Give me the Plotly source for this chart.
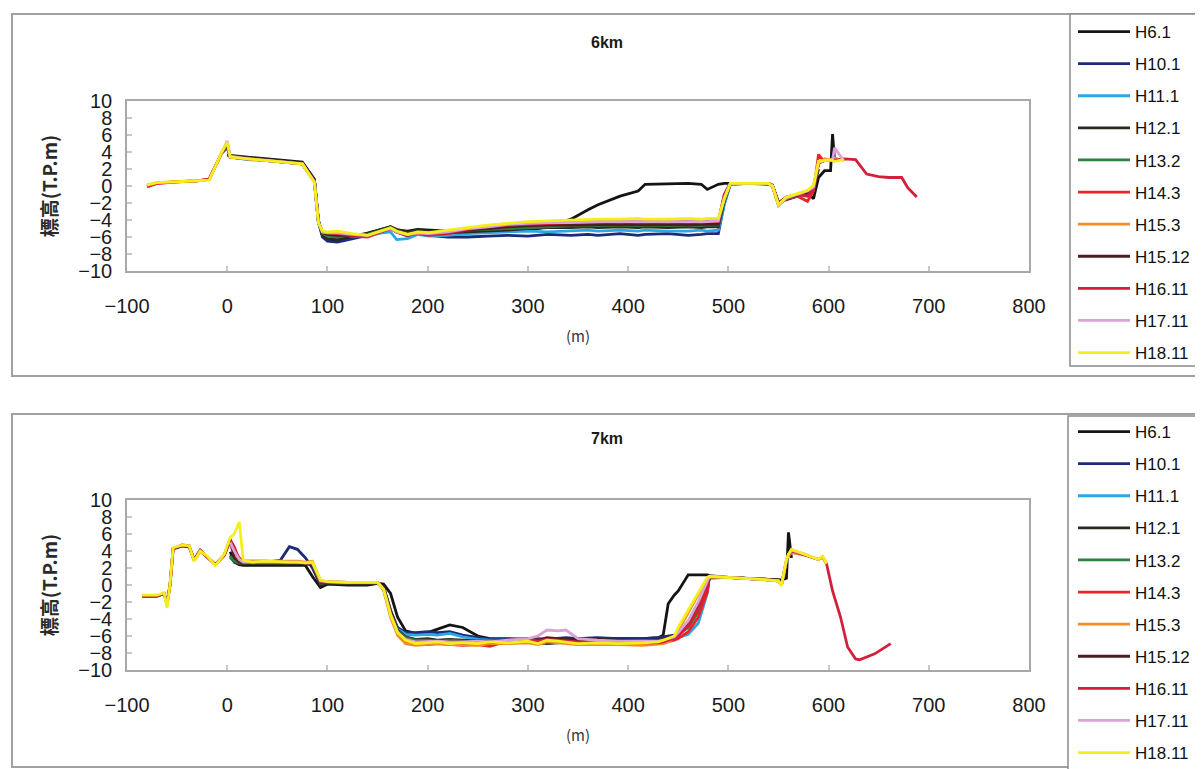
import plotly.graph_objects as go

N = None
PAGE_OFFSET = 8              # browser default body margin
W, H = 1203 - PAGE_OFFSET, 769 - PAGE_OFFSET

SERIES = ["H6.1", "H10.1", "H11.1", "H12.1", "H13.2", "H14.3", "H15.3",
          "H15.12", "H16.11", "H17.11", "H18.11"]
COLORS = ["#141414", "#1c2a7a", "#2aa8e6", "#2b2b1e", "#2f7f3f", "#e8262a",
          "#f28c28", "#4b1f22", "#d21f3c", "#d9a3d6", "#f3ef1a"]

X_TICKS = [-100, 0, 100, 200, 300, 400, 500, 600, 700, 800]
Y_TICKS = [10, 8, 6, 4, 2, 0, -2, -4, -6, -8, -10]

# ---------------- 6km cross-section ----------------
X6 = [-80, -70, -50, -30, -18,
      -5, 0, 3, 20, 40,
      60, 75, 87, 91, 95,
      100, 110, 125, 140, 155,
      163, 169, 180, 190, 201,
      220, 240, 260, 280, 300,
      320, 343, 360, 370, 392,
      410, 417, 440, 460, 473,
      479, 490, 496, 502, 520,
      540, 544, 550, 558, 569,
      579, 585, 590, 596, 602,
      604, 606, 615, 627, 638,
      650, 660, 673, 679, 688]

Y6_H6_1 = [N, N, N, N, N,
           N, 3.6, 3.6, 3.4, 3.2,
           3.0, 2.8, 0.8, -4.0, -5.8,
           -6.4, -6.5, -6.0, -5.5, -5.0,
           -4.8, -5.2, -5.3, -5.1, -5.2,
           -5.3, -5.4, -5.4, -5.3, -5.2,
           -4.8, -3.9, -2.8, -2.2, -1.2,
           -0.6, 0.2, 0.3, 0.3, 0.2,
           -0.4, 0.2, 0.3, 0.3, 0.3,
           0.3, 0.1, -1.9, -1.6, -1.2,
           -0.8, -1.5, 1.0, 1.8, 1.8,
           6.1, 3.0, N, N, N,
           N, N, N, N, N]
Y6_H10_1 = [N, N, N, N, N,
            3.9, 4.5, 3.5, 3.3, 3.1,
            2.9, 2.7, 0.6, -4.2, -6.0,
            -6.5, -6.6, -6.2, -5.8, -5.3,
            -5.0, -5.4, -5.9, -5.6, -5.8,
            -6.0, -6.0, -5.9, -5.8, -5.9,
            -5.7, -5.8, -5.7, -5.8, -5.6,
            -5.8, -5.7, -5.6, -5.8, -5.7,
            -5.6, -5.6, -2.0, 0.2, 0.3,
            0.2, 0.0, -2.0, -1.4, -1.0,
            -0.7, -0.3, N, N, N,
            N, N, N, N, N,
            N, N, N, N, N]
Y6_H11_1 = [N, N, N, N, N,
            4.0, 4.6, 3.4, 3.1, 3.0,
            2.8, 2.6, 0.5, -4.4, -5.6,
            -5.9, -6.0, -5.9, -5.9, -5.5,
            -5.4, -6.3, -6.2, -5.7, -5.9,
            -5.8, -5.6, -5.5, -5.4, -5.3,
            -5.4, -5.3, -5.2, -5.3, -5.2,
            -5.3, -5.2, -5.3, -5.3, -5.2,
            -5.3, -5.2, -2.2, 0.2, 0.3,
            0.3, 0.0, -2.1, -1.5, -1.1,
            -0.7, -0.2, N, N, N,
            N, N, N, N, N,
            N, N, N, N, N]
Y6_H12_1 = [N, N, N, N, N,
            4.0, 4.8, 3.5, 3.3, 3.1,
            2.9, 2.7, 0.7, -4.2, -5.8,
            -6.2, -6.3, -5.8, -5.6, -5.1,
            -4.8, -5.1, -5.4, -5.2, -5.3,
            -5.5, -5.4, -5.3, -5.2, -5.0,
            -4.9, -4.9, -4.8, -4.9, -4.8,
            -4.9, -4.8, -4.9, -4.8, -4.9,
            -4.8, -4.8, -1.8, 0.3, 0.3,
            0.3, 0.0, -2.0, -1.4, -1.0,
            -0.6, -0.5, 2.0, N, N,
            N, N, N, N, N,
            N, N, N, N, N]
Y6_H13_2 = [N, N, N, N, N,
            4.0, 4.7, 3.4, 3.2, 3.0,
            2.8, 2.6, 0.6, -4.3, -5.6,
            -5.9, -6.0, -5.7, -5.7, -5.2,
            -4.9, -5.3, -5.6, -5.4, -5.5,
            -5.4, -5.2, -5.1, -5.0, -4.9,
            -4.8, -4.7, -4.7, -4.6, -4.7,
            -4.6, -4.7, -4.6, -4.7, -4.6,
            -4.6, -4.6, -1.6, 0.3, 0.3,
            0.3, 0.0, -2.0, -1.3, -1.0,
            -0.6, 0.0, 2.5, N, N,
            N, N, N, N, N,
            N, N, N, N, N]
Y6_H14_3 = [0.0, 0.3, 0.5, 0.6, 0.8,
            4.0, 4.9, 3.4, 3.2, 3.0,
            2.8, 2.6, 0.5, -4.2, -5.4,
            -5.5, -5.6, -5.9, -6.0, -5.4,
            -5.0, -5.4, -5.8, -5.6, -5.8,
            -5.6, -5.2, -4.9, -4.7, -4.6,
            -4.5, -4.5, -4.4, -4.5, -4.4,
            -4.5, -4.4, -4.5, -4.4, -4.5,
            -4.4, -4.4, -1.0, 0.3, 0.3,
            0.3, 0.0, -2.1, -1.5, -1.2,
            -1.8, -0.6, 3.7, 2.8, N,
            N, N, N, N, N,
            N, N, N, N, N]
Y6_H15_3 = [0.1, 0.4, 0.5, 0.6, 0.8,
            4.0, 4.9, 3.4, 3.2, 3.0,
            2.8, 2.6, 0.5, -4.3, -5.4,
            -5.5, -5.4, -5.7, -5.9, -5.3,
            -5.0, -5.4, -5.7, -5.5, -5.6,
            -5.3, -5.0, -4.7, -4.5, -4.3,
            -4.2, -4.1, -4.1, -4.0, -4.1,
            -4.0, -4.1, -4.0, -4.1, -4.0,
            -4.1, -4.0, -1.2, 0.3, 0.3,
            0.3, 0.0, -2.3, -1.4, -1.0,
            -0.7, -0.2, 2.6, 3.2, 3.0,
            3.1, 3.3, 3.0, N, N,
            N, N, N, N, N]
Y6_H15_12 = [N, N, N, N, N,
             4.0, 4.8, 3.5, 3.3, 3.1,
             2.9, 2.7, 0.6, -4.2, -5.5,
             -5.7, -5.8, -5.8, -5.8, -5.3,
             -5.0, -5.3, -5.6, -5.4, -5.6,
             -5.5, -5.2, -5.0, -4.8, -4.7,
             -4.6, -4.6, -4.6, -4.5, -4.6,
             -4.5, -4.6, -4.5, -4.6, -4.5,
             -4.5, -4.5, -1.3, 0.3, 0.3,
             0.3, 0.0, -2.1, -1.4, -1.1,
             -0.8, -0.3, 2.8, N, N,
             N, N, N, N, N,
             N, N, N, N, N]
Y6_H16_11 = [-0.1, 0.3, 0.5, 0.6, 0.8,
             4.0, 4.9, 3.4, 3.2, 3.0,
             2.8, 2.6, 0.5, -4.2, -5.4,
             -5.5, -5.6, -5.8, -5.9, -5.3,
             -5.0, -5.4, -5.8, -5.5, -5.7,
             -5.5, -5.1, -4.8, -4.6, -4.5,
             -4.4, -4.3, -4.3, -4.3, -4.2,
             -4.3, -4.2, -4.3, -4.2, -4.3,
             -4.2, -4.2, -1.0, 0.3, 0.3,
             0.3, 0.0, -2.0, -1.3, -1.0,
             -1.2, -0.4, 2.7, 3.0, 3.1,
             3.2, 3.0, 3.2, 3.1, 1.4,
             1.1, 1.0, 1.0, -0.2, -1.3]
Y6_H17_11 = [N, N, N, N, N,
             4.0, 5.3, 3.5, 3.2, 3.0,
             2.8, 2.6, 0.5, -4.3, -5.4,
             -5.5, -5.5, -5.7, -5.8, -5.3,
             -5.0, -5.4, -5.7, -5.5, -5.6,
             -5.4, -5.0, -4.8, -4.5, -4.4,
             -4.3, -4.3, -4.2, -4.2, -4.2,
             -4.2, -4.2, -4.2, -4.2, -4.2,
             -4.2, -4.1, -1.4, 0.3, 0.3,
             0.3, 0.0, -2.2, -1.4, -1.0,
             -0.6, -0.1, 2.8, 3.0, 3.0,
             3.1, 4.5, 3.0, N, N,
             N, N, N, N, N]
Y6_H18_11 = [0.1, 0.4, 0.5, 0.6, 0.7,
             4.1, 5.1, 3.4, 3.2, 3.0,
             2.8, 2.6, 0.4, -4.3, -5.3,
             -5.4, -5.3, -5.6, -5.8, -5.2,
             -4.9, -5.3, -5.7, -5.4, -5.5,
             -5.2, -4.9, -4.6, -4.4, -4.2,
             -4.1, -4.0, -4.0, -3.9, -3.9,
             -3.8, -3.9, -3.9, -3.8, -3.9,
             -3.8, -3.8, -1.5, 0.3, 0.3,
             0.3, 0.0, -2.2, -1.3, -0.9,
             -0.5, 0.1, 2.9, 3.0, 3.1,
             3.0, 2.9, 3.1, N, N,
             N, N, N, N, N]

# ---------------- 7km cross-section ----------------
X7 = [-85, -70, -63, -60, -57,
      -54, -45, -38, -33, -27,
      -20, -12, -3, 3, 7,
      12, 16, 25, 39, 53,
      62, 70, 78, 85, 93,
      100, 120, 140, 150, 156,
      163, 170, 178, 188, 200,
      210, 222, 235, 250, 262,
      280, 300, 310, 319, 330,
      338, 350, 369, 390, 415,
      430, 435, 440, 446, 450,
      460, 470, 479, 481, 500,
      530, 550, 553, 558, 560,
      563, 577, 590, 594, 598,
      604, 612, 619, 627, 631,
      646, 662]

Y7_H6_1 = [N, N, N, N, N,
           N, N, N, N, N,
           N, N, N, 3.9, 2.7,
           2.4, 2.3, 2.3, 2.3, 2.3,
           2.3, 2.3, 2.3, 1.0, -0.3,
           0.1, 0.0, 0.0, 0.2, 0.1,
           -1.0, -3.8, -5.4, -5.7, -5.6,
           -5.2, -4.7, -5.0, -6.0, -6.3,
           -6.3, -6.4, -6.6, -6.6, -6.5,
           -6.4, -6.4, -6.3, -6.3, -6.3,
           -6.2, -5.9, -2.2, -1.2, -0.7,
           1.2, 1.2, 1.2, 1.1, 0.9,
           0.7, 0.6, 0.6, 0.8, 6.2,
           3.2, N, N, N, N,
           N, N, N, N, N,
           N, N]
Y7_H10_1 = [N, N, N, N, N,
            N, N, N, N, N,
            N, N, N, 3.2, 2.8,
            2.7, 2.7, 2.7, 2.7, 2.9,
            4.5, 4.2, 3.2, 2.0, 0.0,
            0.3, 0.2, 0.2, 0.2, -0.2,
            -3.0, -5.0, -5.6, -5.6, -5.5,
            -5.6, -5.5, -5.9, -6.2, -6.4,
            -6.4, -6.3, -6.3, -6.4, -6.3,
            -6.2, -6.3, -6.2, -6.3, -6.3,
            -6.2, -6.1, -6.0, -5.9, -5.5,
            -4.5, -2.8, -0.3, 0.8, 0.9,
            0.7, 0.6, N, N, N,
            N, N, N, N, N,
            N, N, N, N, N,
            N, N]
Y7_H11_1 = [N, N, N, N, N,
            N, N, N, N, N,
            N, N, N, 3.3, 2.8,
            2.6, 2.6, 2.6, 2.6, 2.6,
            2.6, 2.6, 2.6, 2.5, 0.3,
            0.3, 0.2, 0.2, 0.2, -0.4,
            -3.2, -5.2, -5.8, -5.9, -5.8,
            -5.9, -5.7, -6.1, -6.4, -6.5,
            -6.5, -6.4, -6.5, -6.4, -6.5,
            -6.5, -6.6, -6.5, -6.6, -6.6,
            -6.6, -6.5, -6.5, -6.4, -6.2,
            -5.8, -4.5, -1.0, 0.9, 0.9,
            0.7, 0.6, N, N, N,
            N, N, N, N, N,
            N, N, N, N, N,
            N, N]
Y7_H12_1 = [N, N, N, N, N,
            N, N, N, N, N,
            N, N, N, 3.5, 2.7,
            2.5, 2.5, 2.5, 2.5, 2.5,
            2.5, 2.5, 2.5, 2.4, 0.0,
            0.2, 0.1, 0.1, 0.2, -0.3,
            -3.0, -5.3, -6.1, -6.4, -6.3,
            -6.5, -6.4, -6.5, -6.6, -6.7,
            -6.8, -6.7, -6.8, -6.9, -6.8,
            -6.7, -6.8, -6.7, -6.8, -6.7,
            -6.6, -6.4, -6.2, -6.0, -5.6,
            -4.5, -2.5, -0.5, 0.9, 0.9,
            0.7, 0.6, N, N, N,
            N, N, N, N, N,
            N, N, N, N, N,
            N, N]
Y7_H13_2 = [N, N, N, N, N,
            N, N, N, N, N,
            N, N, N, 3.4, 2.8,
            2.6, 2.6, 2.6, 2.6, 2.6,
            2.6, 2.6, 2.6, 2.5, 0.2,
            0.3, 0.2, 0.2, 0.2, -0.4,
            -3.3, -5.4, -6.2, -6.5, -6.5,
            -6.6, -6.5, -6.6, -6.7, -6.6,
            -6.6, -6.5, -6.7, -6.6, -6.7,
            -6.6, -6.7, -6.6, -6.7, -6.6,
            -6.6, -6.5, -6.3, -6.1, -5.8,
            -5.0, -3.2, -0.8, 1.0, 0.9,
            0.7, 0.6, N, N, N,
            N, N, N, N, N,
            N, N, N, N, N,
            N, N]
Y7_H14_3 = [-1.3, -1.3, -1.0, -2.0, 0.0,
            4.2, 4.6, 4.5, 3.0, 4.1,
            3.3, 2.4, 3.5, 5.2, 4.0,
            3.2, 2.8, 2.8, 2.8, 2.7,
            2.7, 2.7, 2.6, 2.6, 0.4,
            0.4, 0.3, 0.3, 0.3, -0.4,
            -3.4, -5.6, -6.6, -7.0, -7.0,
            -6.9, -7.0, -7.1, -7.0, -7.2,
            -6.6, -6.4, -6.5, -6.3, -6.4,
            -6.5, -6.6, -6.6, -6.7, -6.8,
            -6.9, -6.8, -6.7, -6.5, -6.3,
            -5.5, -3.8, -0.8, 0.9, 0.9,
            0.7, 0.5, 0.0, 2.8, N,
            N, N, N, N, N,
            N, N, N, N, N,
            N, N]
Y7_H15_3 = [N, N, N, N, N,
            N, N, N, N, N,
            N, N, N, 4.8, 3.5,
            3.0, 2.8, 2.8, 2.8, 2.8,
            2.8, 2.8, 2.7, 2.8, 0.5,
            0.4, 0.3, 0.3, 0.3, -0.6,
            -3.8, -5.9, -6.9, -7.1, -7.0,
            -6.9, -7.0, -7.0, -7.1, -6.9,
            -6.9, -6.8, -7.0, -6.7, -6.8,
            -6.9, -7.0, -7.0, -7.0, -7.1,
            -7.0, -6.9, -6.7, -6.2, -5.4,
            -3.3, -1.2, 0.8, 1.0, 0.9,
            0.7, 0.5, 0.0, 2.9, 3.4,
            3.8, 3.5, 3.0, N, N,
            N, N, N, N, N,
            N, N]
Y7_H15_12 = [-1.3, -1.3, -1.0, -2.3, 0.1,
             4.3, 4.6, 4.5, 2.9, 4.0,
             3.3, 2.4, 3.5, 5.4, 3.2,
             2.7, 2.6, 2.6, 2.6, 2.6,
             2.6, 2.6, 2.5, 2.5, 0.3,
             0.3, 0.2, 0.2, 0.2, -0.4,
             -3.4, -5.5, -6.4, -6.7, -6.6,
             -6.6, -6.6, -6.7, -6.6, -6.6,
             -6.5, -6.3, -6.5, -6.2, -6.3,
             -6.4, -6.5, -6.4, -6.5, -6.6,
             -6.5, -6.4, -6.2, -6.0, -5.6,
             -4.6, -2.6, -0.2, 0.9, 0.9,
             0.7, 0.6, N, N, N,
             N, N, N, N, N,
             N, N, N, N, N,
             N, N]
Y7_H16_11 = [-1.3, -1.3, -1.0, -2.2, 0.1,
             4.3, 4.7, 4.6, 2.9, 4.1,
             3.3, 2.4, 3.5, 5.3, 4.5,
             3.0, 2.7, 2.7, 2.7, 2.7,
             2.7, 2.7, 2.6, 2.6, 0.4,
             0.3, 0.3, 0.3, 0.3, -0.5,
             -3.4, -5.6, -6.5, -6.8, -6.7,
             -6.6, -6.8, -6.9, -6.7, -6.8,
             -6.5, -6.4, -6.6, -6.4, -6.5,
             -6.6, -6.7, -6.6, -6.7, -6.8,
             -6.8, -6.7, -6.5, -6.3, -6.0,
             -4.8, -2.8, -0.3, 0.9, 0.9,
             0.7, 0.5, 0.0, 2.9, 3.5,
             4.0, 3.5, 3.0, 3.3, 2.5,
             -0.7, -3.8, -7.3, -8.7, -8.8,
             -8.1, -6.9]
Y7_H17_11 = [N, N, N, N, N,
             N, N, N, N, N,
             N, N, N, 5.0, 4.0,
             3.0, 2.7, 2.7, 2.7, 2.7,
             2.7, 2.7, 2.6, 2.6, 0.5,
             0.4, 0.3, 0.3, 0.3, -0.5,
             -3.5, -5.6, -6.4, -6.7, -6.6,
             -6.6, -6.7, -6.7, -6.6, -6.7,
             -6.5, -6.3, -6.0, -5.3, -5.4,
             -5.3, -6.3, -6.5, -6.6, -6.6,
             -6.6, -6.5, -6.3, -6.1, -5.6,
             -4.2, -2.0, 0.5, 1.0, 0.9,
             0.7, 0.5, 0.0, 3.0, 3.6,
             4.1, 3.6, 3.0, N, N,
             N, N, N, N, N,
             N, N]
Y7_H18_11 = [-1.2, -1.2, -0.9, -2.7, 0.2,
             4.4, 4.7, 4.6, 2.8, 4.0,
             3.4, 2.3, 3.6, 5.6, 6.0,
             7.4, 2.9, 2.7, 2.8, 2.7,
             2.7, 2.7, 2.6, 2.7, 0.6,
             0.4, 0.3, 0.3, 0.3, -0.5,
             -3.5, -5.6, -6.5, -6.9, -6.8,
             -6.7, -6.9, -6.8, -6.9, -6.7,
             -6.8, -6.6, -6.9, -6.5, -6.6,
             -6.7, -6.9, -6.8, -6.9, -6.8,
             -6.7, -6.5, -6.3, -6.0, -5.0,
             -3.0, -1.0, 0.9, 1.0, 0.9,
             0.7, 0.5, -0.1, 3.0, 3.6,
             4.2, 3.6, 3.0, 3.4, 2.5,
             N, N, N, N, N,
             N, N]

PANELS = [
    dict(title="6km", x=X6, axis=("x", "y"), legend="legend",
         ys=[Y6_H6_1, Y6_H10_1, Y6_H11_1, Y6_H12_1, Y6_H13_2, Y6_H14_3,
             Y6_H15_3, Y6_H15_12, Y6_H16_11, Y6_H17_11, Y6_H18_11]),
    dict(title="7km", x=X7, axis=("x2", "y2"), legend="legend2",
         ys=[Y7_H6_1, Y7_H10_1, Y7_H11_1, Y7_H12_1, Y7_H13_2, Y7_H14_3,
             Y7_H15_3, Y7_H15_12, Y7_H16_11, Y7_H17_11, Y7_H18_11]),
]

TICK_FONT = dict(family="Liberation Sans Narrow, Liberation Sans, Arial, sans-serif",
                 size=20, color="#1a1a1a")
CJK_FONT = dict(family="Noto Sans CJK JP, sans-serif", size=19, color="#2a2a2a")

fig = go.Figure()
for p in PANELS:
    for name, color, ys in zip(SERIES, COLORS, p["ys"]):
        if len(ys) != len(p["x"]):
            raise ValueError(f"{p['title']} {name}: {len(ys)} vs {len(p['x'])}")
        fig.add_trace(go.Scatter(
            x=p["x"], y=ys, name=name, mode="lines",
            xaxis=p["axis"][0], yaxis=p["axis"][1],
            legend=p["legend"], legendgroup=p["title"] + name,
            line=dict(color=color, width=2.8),
            connectgaps=False, showlegend=True))


# screen-pixel (page) position -> paper fraction, accounting for the page offset
def px_x(v):
    return (v - PAGE_OFFSET) / W


def px_y(v):
    return 1 - (v - PAGE_OFFSET) / H


XDOM = [px_x(127), px_x(1029)]
panels_px = [dict(top=101, bottom=271, frame=(14, 376), title_y=42,
                  legend_box=(1070, 14, 366), legend_top=14),
             dict(top=500, bottom=670, frame=(414, 767), title_y=438,
                  legend_box=(1068, 416, 790), legend_top=414)]


def xaxis_cfg(anchor):
    return dict(domain=XDOM, range=[-100, 800], anchor=anchor,
                tickmode="array", tickvals=X_TICKS,
                ticktext=[str(v).replace("-", "\u2212") for v in X_TICKS],
                ticks="inside", ticklen=5, tickwidth=1.5, tickcolor="#c8c8c8",
                showline=True, linecolor="#a8a8a8", linewidth=1.5, mirror=True,
                showgrid=False, zeroline=False, tickfont=TICK_FONT,
                ticklabelstandoff=16,
                title=dict(text="(m)", font=dict(family="Noto Sans CJK JP, serif",
                                                 size=15, color="#333"), standoff=16))


def yaxis_cfg(anchor, pp):
    return dict(domain=[px_y(pp["bottom"]), px_y(pp["top"])], range=[-10, 10],
                anchor=anchor, tickmode="array", tickvals=Y_TICKS,
                ticktext=[str(v).replace("-", "\u2212") for v in Y_TICKS],
                ticks="inside", ticklen=5, tickwidth=1.5, tickcolor="#c8c8c8",
                showline=True, linecolor="#a8a8a8", linewidth=1.5, mirror=True,
                showgrid=False, zeroline=False, tickfont=TICK_FONT,
                ticklabelstandoff=9,
                title=dict(text="<b>標高(T.P.m)</b>", font=CJK_FONT, standoff=16))


def legend_cfg(top):
    return dict(x=px_x(1073), xanchor="left", y=px_y(top), yanchor="top",
                bgcolor="rgba(0,0,0,0)", borderwidth=0,
                font=dict(family="Liberation Sans, Arial, sans-serif", size=17,
                          color="#111"),
                itemwidth=52, tracegroupgap=7, traceorder="grouped")


shapes = []
annotations = []
for pp, p in zip(panels_px, PANELS):
    f0, f1 = pp["frame"]
    shapes.append(dict(type="rect", xref="paper", yref="paper",
                       x0=px_x(12), x1=px_x(1215), y0=px_y(f1), y1=px_y(f0),
                       line=dict(color="#a0a0a0", width=2), layer="below"))
    lx, ly0, ly1 = pp["legend_box"]
    shapes.append(dict(type="rect", xref="paper", yref="paper",
                       x0=px_x(lx), x1=px_x(1215), y0=px_y(ly1), y1=px_y(ly0),
                       line=dict(color="#8a8a8a", width=1.5),
                       fillcolor="white", layer="below"))
    annotations.append(dict(text="<b>" + p["title"] + "</b>", xref="paper", yref="paper",
                            x=px_x(607), y=px_y(pp["title_y"]), showarrow=False,
                            xanchor="center", yanchor="middle",
                            font=dict(family="Liberation Sans Narrow, Liberation Sans, Arial, sans-serif",
                                      size=16, color="#1a1a1a")))

fig.update_layout(
    width=W, height=H, autosize=False,
    margin=dict(l=0, r=0, t=0, b=0, autoexpand=False),
    paper_bgcolor="white", plot_bgcolor="white",
    xaxis=xaxis_cfg("y"), yaxis=yaxis_cfg("x", panels_px[0]),
    xaxis2=xaxis_cfg("y2"), yaxis2=yaxis_cfg("x2", panels_px[1]),
    legend=legend_cfg(panels_px[0]["legend_top"]),
    legend2=legend_cfg(panels_px[1]["legend_top"]),
    shapes=shapes, annotations=annotations,
)

fig.write_html("out.html")
